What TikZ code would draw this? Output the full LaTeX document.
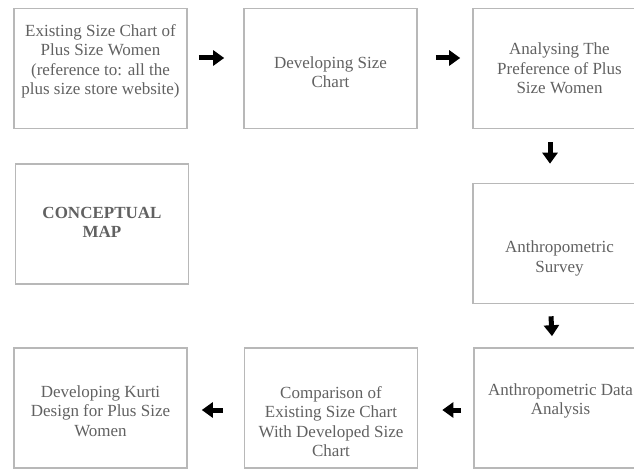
\documentclass[tikz,border=0pt]{standalone}
\usepackage{fontspec}
\setmainfont{Liberation Serif}
\usetikzlibrary{arrows.meta}
\begin{document}
\begin{tikzpicture}[x=1pt,y=-1pt,
  box/.style={draw=black!28, line width=1.6pt, minimum width=173pt, minimum height=120pt, inner sep=0pt},
  txt/.style={text=black!62, font=\fontsize{17}{19.5}\selectfont, align=center, inner sep=0pt},
  blk/.style={line width=5pt, -{Triangle[length=11pt,width=15pt]}, black}]
\useasboundingbox (0,0) rectangle (634,470);
\begin{scope}
\clip (0,0) rectangle (634,470);
\node[box] (b1) at (100.5,68.5) {};
\node[box] (b2) at (330.5,68.5) {};
\node[box] (b3) at (559.5,68.5) {};
\node[box] (b4) at (102,224) {};
\node[box] (b5) at (559.5,243.5) {};
\node[box] (b6) at (560.5,408) {};
\node[box] (b7) at (100.5,408) {};
\node[box] (b8) at (331,408) {};

\node[txt, yshift=7pt] at (b1.center) {Existing Size Chart of\\Plus Size Women\\(reference to: all the\\plus size store website)};
\node[txt, yshift=-3.5pt] at (b2.center) {Developing Size\\Chart};
\node[txt] at (b3.center) {Analysing The\\Preference of Plus\\Size Women};
\node[txt, yshift=1.5pt, font=\fontsize{17}{19.5}\selectfont\bfseries] at (b4.center) {CONCEPTUAL\\MAP};
\node[txt, yshift=-15pt] at (b5.center) {Anthropometric\\Survey};
\node[txt, yshift=7pt] at (b6.center) {Anthropometric Data\\Analysis};
\node[txt, yshift=-3pt] at (b7.center) {Developing Kurti\\Design for Plus Size\\Women};
\node[txt, yshift=-13.5pt] at (b8.center) {Comparison of\\Existing Size Chart\\With Developed Size\\Chart};
\end{scope}

\draw[blk] ([shift={(11pt,10.5pt)}]b1.east) -- ([shift={(-19pt,10.5pt)}]b2.west);
\draw[blk] ([shift={(18pt,10.5pt)}]b2.east) -- ([shift={(-12pt,10.5pt)}]b3.west);
\draw[blk] ([shift={(-9.5pt,-13pt)}]b3.south) -- ([shift={(-9.5pt,19pt)}]b5.north);
\draw[blk] ([shift={(-8.5pt,-12pt)}]b5.south) -- ([shift={(-8.5pt,11pt)}]b6.north);
\draw[blk] ([shift={(-12pt,-2pt)}]b6.west) -- ([shift={(24pt,-2pt)}]b8.east);
\draw[blk] ([shift={(-21pt,-2pt)}]b8.west) -- ([shift={(14pt,-2pt)}]b7.east);
\end{tikzpicture}
\end{document}
